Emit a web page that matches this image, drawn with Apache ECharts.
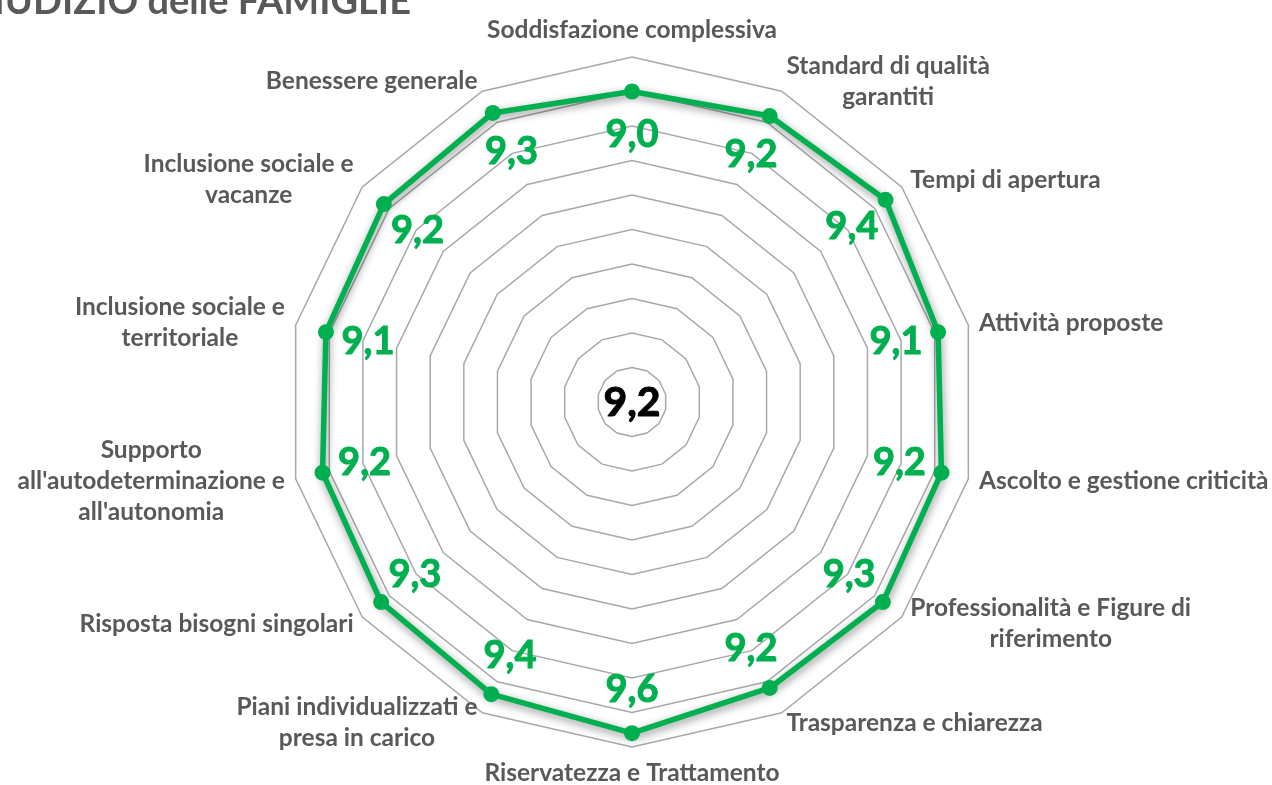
<!DOCTYPE html>
<html>
<head>
<meta charset="utf-8">
<script src="https://cdn.jsdelivr.net/npm/echarts@6/dist/echarts.min.js"></script>
<style>html,body{margin:0;padding:0;background:#fff}#c{width:1272px;height:785px}</style>
</head>
<body>
<div id="c"></div>
<script>
// Data (clockwise order, starting at top)
const categories = [
  "Soddisfazione complessiva",
  "Standard di qualità\ngarantiti",
  "Tempi di apertura",
  "Attività proposte",
  "Ascolto e gestione criticità",
  "Professionalità e Figure di\nriferimento",
  "Trasparenza e chiarezza",
  "Riservatezza e Trattamento",
  "Piani individualizzati e\npresa in carico",
  "Risposta bisogni singolari",
  "Supporto\nall'autodeterminazione e\nall'autonomia",
  "Inclusione sociale e\nterritoriale",
  "Inclusione sociale e\nvacanze",
  "Benessere generale"
];
const values = [9.0, 9.2, 9.4, 9.1, 9.2, 9.3, 9.2, 9.6, 9.4, 9.3, 9.2, 9.1, 9.2, 9.3];
const overallScore = 9.2;
const axisMax = 10;
const ringCount = 10;
const titleText = "GIUDIZIO delle FAMIGLIE";

// ECharts radar runs counter-clockwise: keep first at top, reverse the rest
const order = [0].concat(categories.map((_, i) => i).slice(1).reverse());
const cats = order.map(i => categories[i]);
const vals = order.map(i => values[i]);
const labelInset = 1.25; // value labels drawn inside the line, in axis units
const labelVals = vals.map(v => v - labelInset);
const fmt = v => v.toFixed(1).replace('.', ',');

const FONT = 'Lato, "Open Sans", sans-serif';
const chart = echarts.init(document.getElementById('c'), null, {renderer: 'canvas'});
chart.setOption({
  backgroundColor: '#ffffff',
  animation: false,
  title: {
    text: titleText,
    left: -39, top: -22,
    textStyle: {fontFamily: FONT, fontWeight: 'bold', fontSize: 38, color: '#595959'}
  },
  radar: {
    center: [632, 402],
    radius: 345,
    shape: 'polygon',
    splitNumber: ringCount,
    indicator: cats.map(n => ({name: n, min: 0, max: axisMax})),
    axisLine: {show: false},
    axisTick: {show: false},
    axisLabel: {show: false},
    splitArea: {show: false},
    splitLine: {lineStyle: {color: '#A8A8A8', width: 1.5}},
    axisNameGap: 11,
    axisName: {
      formatter: n => n.split('\n').map(s => '{c|' + s + '}').join('\n'),
      color: '#595959',
      fontFamily: FONT,
      fontWeight: 'bold',
      fontSize: 24.5,
      lineHeight: 31,
      rich: {c: {align: 'center', color: '#595959', fontFamily: FONT, fontWeight: 'bold', fontSize: 24.5, lineHeight: 31}}
    }
  },
  graphic: [{
    type: 'text',
    style: {text: fmt(overallScore), fontFamily: FONT, fontWeight: 'bold', fontSize: 41, fill: '#000', stroke: '#000', lineWidth: 1, x: 632, y: 403, align: 'center', verticalAlign: 'middle'}
  }],
  series: [{
    type: 'radar',
    z: 3,
    symbol: 'circle',
    symbolSize: 16,
    lineStyle: {color: '#00B050', width: 5.5, shadowBlur: 8, shadowColor: 'rgba(0,0,0,0.45)', shadowOffsetX: 1, shadowOffsetY: 3},
    itemStyle: {color: '#00B050'},
    data: [{value: vals}]
  }, {
    type: 'radar',
    z: 4,
    symbol: 'circle',
    symbolSize: 1,
    lineStyle: {opacity: 0, width: 0},
    itemStyle: {color: 'rgba(0,0,0,0)'},
    label: {
      show: true,
      position: 'inside',
      formatter: p => fmt(vals[p.dimensionIndex]),
      color: '#00B050',
      fontFamily: FONT,
      fontWeight: 'bold',
      fontSize: 38,
      textBorderColor: '#00B050',
      textBorderWidth: 1
    },
    data: [{value: labelVals}]
  }]
});
</script>
</body>
</html>
